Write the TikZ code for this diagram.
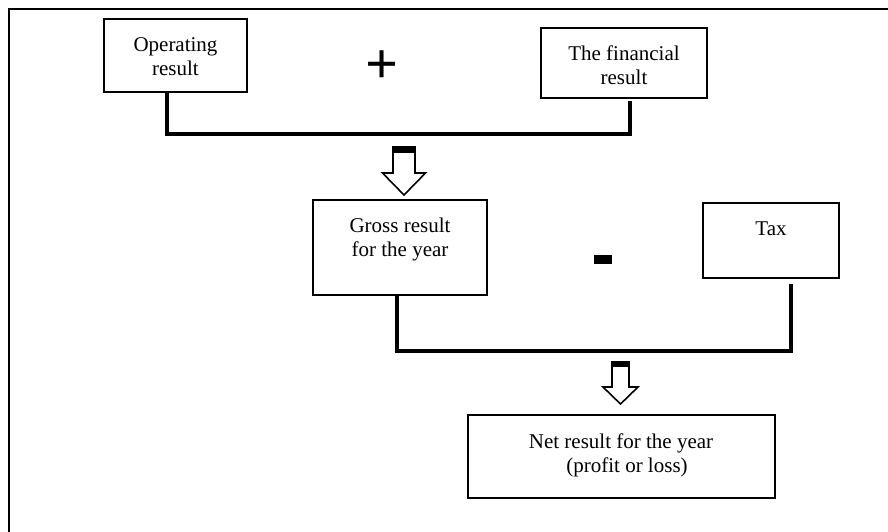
\documentclass[tikz,border=0pt]{standalone}
\usepackage{fontspec}
\setmainfont{Liberation Serif}
\tikzset{
  frame/.style={line width=2pt},
  box/.style={draw,line width=2.2pt,inner sep=0pt},
  txt/.style={align=center,inner sep=0pt,font=\fontsize{21}{24}\selectfont},
  link/.style={line width=3.5pt},
  hollow/.style={line width=1.6pt,fill=white},
}
\begin{document}
\begin{tikzpicture}[x=1pt,y=-1pt]
\useasboundingbox(0,0)rectangle(888,532);
\clip(0,0)rectangle(888,532);
\draw[frame](9,9)rectangle(900,545);
% boxes
\node[box,minimum width=143,minimum height=73](op)at(175.5,55.5){};
\node[box,minimum width=166,minimum height=70](fin)at(624,63){};
\node[box,minimum width=174,minimum height=95](gross)at(400,247.5){};
\node[box,minimum width=136,minimum height=75](tax)at(771,240.5){};
\node[box,minimum width=307,minimum height=83](net)at(621.5,456.5){};
% texts
\node[txt](opT)at(175.5,57){Operating\\result};
\node[txt](finT)at(624,65){The financial\\result};
\node[txt](grossT)at(400,239){Gross result\\for the year};
\node[txt](taxT)at(771,229){Tax};
\node[txt](netT)at(621,455){Net result for the year\\\hspace*{12pt}(profit or loss)};
% signs
\node[inner sep=0pt,font=\fontsize{58}{58}\selectfont\bfseries](plus)at(382.5,67.5){+};
\node[fill=black,inner sep=0pt,minimum width=18,minimum height=9](minus)at(603,259.5){};
% joins
\draw[link]([xshift=-8.5pt]op.south)--++(0,41)-|([xshift=6pt,yshift=-2pt]fin.south);
\draw[link]([xshift=-3pt]gross.south)--++(0,55)-|([xshift=20pt,yshift=-5pt]tax.south);
% arrows
\draw[hollow](404,195)--++(-21.5,-22)--++(10.5,0)--++(0,-26)--++(22,0)--++(0,26)--++(10.5,0)--cycle;
\fill(393,147)rectangle++(22,6);
\draw[hollow](620.5,404)--++(-17.5,-17)--++(9,0)--++(0,-25)--++(17,0)--++(0,25)--++(9,0)--cycle;
\fill(612,362)rectangle++(17,5);
\end{tikzpicture}
\end{document}
